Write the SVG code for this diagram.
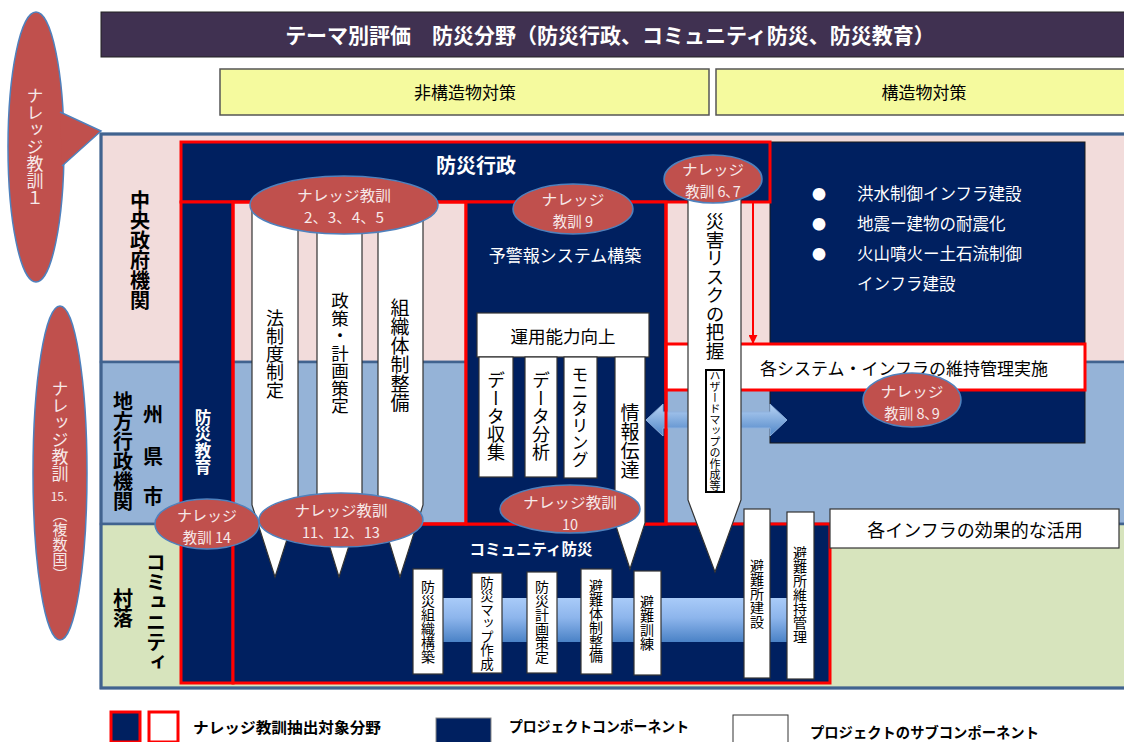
<svg xmlns="http://www.w3.org/2000/svg" width="1124" height="742" viewBox="0 0 1124 742">
<defs>
<linearGradient id="barG" x1="0" y1="0" x2="0" y2="1">
<stop offset="0" stop-color="#a9cbf8"/>
<stop offset="0.45" stop-color="#8db5ec"/>
<stop offset="1" stop-color="#4a82c6"/>
</linearGradient>
<linearGradient id="arrG" x1="0" y1="0" x2="0" y2="1">
<stop offset="0" stop-color="#b8d3f4"/>
<stop offset="1" stop-color="#4f86c8"/>
</linearGradient>
<marker id="redArr" viewBox="0 0 10 10" refX="9" refY="5" markerWidth="9" markerHeight="9" markerUnits="userSpaceOnUse" orient="auto">
<path d="M0,0 L10,5 L0,10 Z" fill="#ff0000"/>
</marker>
</defs>
<style>
text{font-family:"Noto Sans CJK JP","Noto Sans",sans-serif;}
.v{writing-mode:vertical-rl;text-anchor:middle;}
.c{text-anchor:middle;dominant-baseline:central;}
.w{fill:#ffffff;}
.b{font-weight:bold;}
.navy{fill:#002060;}
.red{fill:none;stroke:#ff0000;stroke-width:3;}
.sub{fill:#ffffff;stroke:#333333;stroke-width:1.2;}
.pen{fill:#ffffff;stroke:#333333;stroke-width:1.2;}
.ell{fill:#c0504d;stroke:#4f81bd;stroke-width:1.5;}
.et{fill:#f7e9e9;font-size:14.5px;text-anchor:middle;dominant-baseline:central;}
.lab{font-weight:bold;font-size:20px;fill:#000;}
</style>

<!-- header -->
<g id="title">
<rect x="101" y="12" width="1030" height="45" fill="#403151" stroke="#222" stroke-width="1"/>
<text x="610" y="34" class="c w b" font-size="21">テーマ別評価　防災分野（防災行政、コミュニティ防災、防災教育）</text>
</g>
<g id="nonstruct">
<rect x="220" y="69" width="489" height="46" fill="#f5fa9e" stroke="#555" stroke-width="1.5"/>
<text x="465" y="91" class="c" font-size="17">非構造物対策</text>
</g>
<g id="struct">
<rect x="716" y="69" width="420" height="46" fill="#f5fa9e" stroke="#555" stroke-width="1.5"/>
<text x="924" y="91" class="c" font-size="17">構造物対策</text>
</g>

<!-- rows -->
<g id="rows">
<rect x="101" y="134" width="1030" height="228" fill="#f2dcdb" stroke="#41638f" stroke-width="2.5"/>
<rect x="101" y="362" width="1030" height="162" fill="#95b3d7" stroke="#41638f" stroke-width="2.5"/>
<rect x="101" y="524" width="1030" height="164" fill="#d7e4bd" stroke="#41638f" stroke-width="2.5"/>
<rect x="101" y="134" width="1030" height="554" fill="none" stroke="#41638f" stroke-width="3"/>
</g>
<g id="rowlabels">
<text x="140" y="250" class="v lab">中央政府機関</text>
<text x="123" y="451" class="v lab">地方行政機関</text>
<text x="153" y="413" class="c lab">州</text>
<text x="153" y="455" class="c lab">県</text>
<text x="153" y="495" class="c lab">市</text>
<text x="123" y="608" class="v lab">村落</text>
<text x="156" y="612" class="v lab">コミュニティ</text>
</g>

<!-- structural measures block -->
<g id="infra">
<rect x="770" y="142" width="315" height="301" class="navy" stroke="#1a1a1a" stroke-width="1"/>
<text x="819" y="193" class="c w" font-size="14">●</text>
<text x="819" y="223" class="c w" font-size="14">●</text>
<text x="819" y="253" class="c w" font-size="14">●</text>
<text x="857" y="193" class="w" font-size="16.5" dominant-baseline="central">洪水制御インフラ建設</text>
<text x="857" y="223" class="w" font-size="16.5" dominant-baseline="central">地震ー建物の耐震化</text>
<text x="857" y="253" class="w" font-size="16.5" dominant-baseline="central">火山噴火ー土石流制御</text>
<text x="857" y="283" class="w" font-size="16.5" dominant-baseline="central">インフラ建設</text>
</g>

<!-- disaster admin frame -->
<g id="gyosei">
<rect x="181" y="142" width="589" height="60" class="navy"/>
<rect x="181" y="142" width="589" height="60" class="red"/>
<text x="476" y="164" class="c w b" font-size="20">防災行政</text>
</g>

<g id="kyoiku">
<rect x="181" y="202" width="52" height="481" class="navy"/>
<rect x="181" y="202" width="52" height="481" class="red"/>
<text x="203" y="442" class="v w b" font-size="16.5">防災教育</text>
</g>

<g id="community">
<rect x="233" y="524" width="597" height="159" class="navy"/>
<rect x="233" y="524" width="597" height="159" class="red"/>
<text x="531" y="548" class="c w b" font-size="15.5">コミュニティ防災</text>
<rect x="413" y="598" width="374" height="44" fill="url(#barG)"/>
</g>

<g id="policyArea">
<rect x="233" y="202" width="233" height="322" class="red"/>
</g>

<g id="yokeiho">
<rect x="466" y="202" width="200" height="322" class="navy"/>
<rect x="466" y="202" width="200" height="322" class="red"/>
<text x="565" y="254" class="c w" font-size="17">予警報システム構築</text>
</g>

<g id="maintenance">
<rect x="666" y="344" width="419" height="46" fill="#ffffff" stroke="#ff0000" stroke-width="3"/>
<text x="904" y="367" class="c" font-size="17">各システム・インフラの維持管理実施</text>
</g>

<g id="connectors">
<polygon points="646,420 663,404 663,412 770,412 770,404 787,420 770,436 770,428 663,428 663,436" fill="url(#arrG)" stroke="#8eb1de" stroke-width="1"/>
<line x1="666" y1="202" x2="666" y2="524" stroke="#ff0000" stroke-width="3"/>
<line x1="753" y1="203" x2="753" y2="343" stroke="#ff0000" stroke-width="2" marker-end="url(#redArr)"/>
</g>

<!-- pillars -->
<g id="hosei">
<path d="M252,205 H298 V505 L275,577 L252,505 Z" class="pen"/>
<text x="275" y="354" class="v" font-size="18">法制度制定</text>
</g>
<g id="seisaku">
<path d="M317,205 H362 V505 L339,577 L317,505 Z" class="pen"/>
<text x="340" y="353" class="v" font-size="17.5">政策・計画策定</text>
</g>
<g id="soshiki">
<path d="M378,205 H423 V505 L400,577 L378,505 Z" class="pen"/>
<text x="400" y="355" class="v" font-size="19">組織体制整備</text>
</g>

<g id="unyo">
<rect x="477" y="313" width="172" height="44" class="sub"/>
<text x="563" y="335" class="c" font-size="17.5">運用能力向上</text>
</g>
<g id="datacol">
<rect x="479" y="357" width="34" height="120" class="sub"/>
<text x="496" y="416" class="v" font-size="18">データ収集</text>
</g>
<g id="dataana">
<rect x="525" y="357" width="32" height="120" class="sub"/>
<text x="541" y="416" class="v" font-size="18">データ分析</text>
</g>
<g id="monitor">
<rect x="564" y="357" width="33" height="121" class="sub"/>
<text x="580" y="417" class="v" font-size="17">モニタリング</text>
</g>
<g id="joho">
<path d="M615,357 H645 V523 L630,569 L615,523 Z" class="pen"/>
<text x="630" y="441" class="v" font-size="19">情報伝達</text>
</g>
<g id="risk">
<path d="M688,190 H741 V500 L715,572 L688,500 Z" class="pen"/>
<text x="715" y="286" class="v" font-size="18.5">災害リスクの把握</text>
<rect x="706" y="370" width="18" height="122" fill="#fff" stroke="#000" stroke-width="2"/>
<text x="715" y="431" class="v" font-size="11">ハザードマップの作成等</text>
</g>

<!-- community sub components -->
<g id="c1"><rect x="413" y="569" width="30" height="105" class="sub"/><text x="428" y="622" class="v" font-size="14">防災組織構築</text></g>
<g id="c2"><rect x="472" y="573" width="30" height="100" class="sub"/><text x="487" y="623" class="v" font-size="13.5">防災マップ作成</text></g>
<g id="c3"><rect x="527" y="572" width="30" height="101" class="sub"/><text x="542" y="622" class="v" font-size="14">防災計画策定</text></g>
<g id="c4"><rect x="581" y="569" width="31" height="105" class="sub"/><text x="596" y="621" class="v" font-size="14">避難体制整備</text></g>
<g id="c5"><rect x="634" y="571" width="27" height="104" class="sub"/><text x="647" y="623" class="v" font-size="14">避難訓練</text></g>
<g id="c6"><rect x="744" y="509" width="26" height="169" class="sub"/><text x="757" y="594" class="v" font-size="14">避難所建設</text></g>
<g id="c7"><rect x="787" y="512" width="27" height="167" class="sub"/><text x="800" y="595" class="v" font-size="14">避難所維持管理</text></g>

<g id="katsuyo">
<rect x="830" y="509" width="289" height="39" class="sub"/>
<text x="975" y="529" class="c" font-size="18">各インフラの効果的な活用</text>
</g>

<!-- knowledge ellipses -->
<g id="k1">
<ellipse cx="36" cy="147" rx="28" ry="135" class="ell"/>
<path d="M60,112 L101,131 L62,166 Z" fill="#c0504d"/>
<path d="M60,112 L101,131 L62,166" fill="none" stroke="#4f81bd" stroke-width="1.5"/>
<text x="35" y="147" class="v" font-size="17" fill="#f7e9e9">ナレッジ教訓１</text>
</g>
<g id="k15">
<ellipse cx="60" cy="473" rx="27" ry="167" class="ell"/>
<text x="60" y="431" class="v" font-size="17" fill="#f7e9e9">ナレッジ教訓</text>
<text x="59" y="495" class="c" font-size="12" fill="#f7e9e9">15.</text>
<text x="60" y="544" class="v" font-size="15" fill="#f7e9e9">（複数国）</text>
</g>
<g id="k2">
<ellipse cx="344" cy="205" rx="94" ry="29" class="ell"/>
<text x="344" y="194" class="et" textLength="94" lengthAdjust="spacingAndGlyphs">ナレッジ教訓</text>
<text x="344" y="216" class="et" textLength="80" lengthAdjust="spacingAndGlyphs">2、3、4、5</text>
</g>
<g id="k9">
<ellipse cx="573" cy="209" rx="60" ry="25" class="ell"/>
<text x="573" y="198" class="et" textLength="63" lengthAdjust="spacingAndGlyphs">ナレッジ</text>
<text x="573" y="220" class="et">教訓 9</text>
</g>
<g id="k6">
<ellipse cx="713" cy="179" rx="49" ry="24" class="ell"/>
<text x="713" y="168" class="et" textLength="62" lengthAdjust="spacingAndGlyphs">ナレッジ</text>
<text x="713" y="190" class="et">教訓 6､7</text>
</g>
<g id="k8">
<ellipse cx="912" cy="400" rx="49" ry="27" class="ell"/>
<text x="912" y="390" class="et" textLength="63" lengthAdjust="spacingAndGlyphs">ナレッジ</text>
<text x="912" y="412" class="et">教訓 8､9</text>
</g>
<g id="k10">
<ellipse cx="570" cy="509" rx="70" ry="24" class="ell"/>
<text x="570" y="501" class="et" textLength="94" lengthAdjust="spacingAndGlyphs">ナレッジ教訓</text>
<text x="570" y="523" class="et">10</text>
</g>
<g id="k11">
<ellipse cx="341" cy="520" rx="82" ry="27" class="ell"/>
<text x="341" y="509" class="et" textLength="93" lengthAdjust="spacingAndGlyphs">ナレッジ教訓</text>
<text x="341" y="531" class="et" textLength="78" lengthAdjust="spacingAndGlyphs">11、12、13</text>
</g>
<g id="k14">
<ellipse cx="207" cy="524" rx="52" ry="25" class="ell"/>
<text x="207" y="514" class="et" textLength="60" lengthAdjust="spacingAndGlyphs">ナレッジ</text>
<text x="207" y="536" class="et">教訓 14</text>
</g>

<!-- legend -->
<g id="legend">
<rect x="111" y="712" width="29" height="30" class="navy" stroke="#ff0000" stroke-width="3"/>
<rect x="149" y="712" width="29" height="30" fill="#fff" stroke="#ff0000" stroke-width="3"/>
<text x="193" y="726" class="b" font-size="15" dominant-baseline="central" textLength="188" lengthAdjust="spacingAndGlyphs">ナレッジ教訓抽出対象分野</text>
<rect x="436" y="718" width="55" height="30" class="navy" stroke="#888" stroke-width="1"/>
<text x="509" y="725" class="b" font-size="14.5" dominant-baseline="central" textLength="180" lengthAdjust="spacingAndGlyphs">プロジェクトコンポーネント</text>
<rect x="733" y="715" width="55" height="30" fill="#fff" stroke="#333" stroke-width="1"/>
<text x="810" y="731" class="b" font-size="14.5" dominant-baseline="central" textLength="229" lengthAdjust="spacingAndGlyphs">プロジェクトのサブコンポーネント</text>
</g>
</svg>
